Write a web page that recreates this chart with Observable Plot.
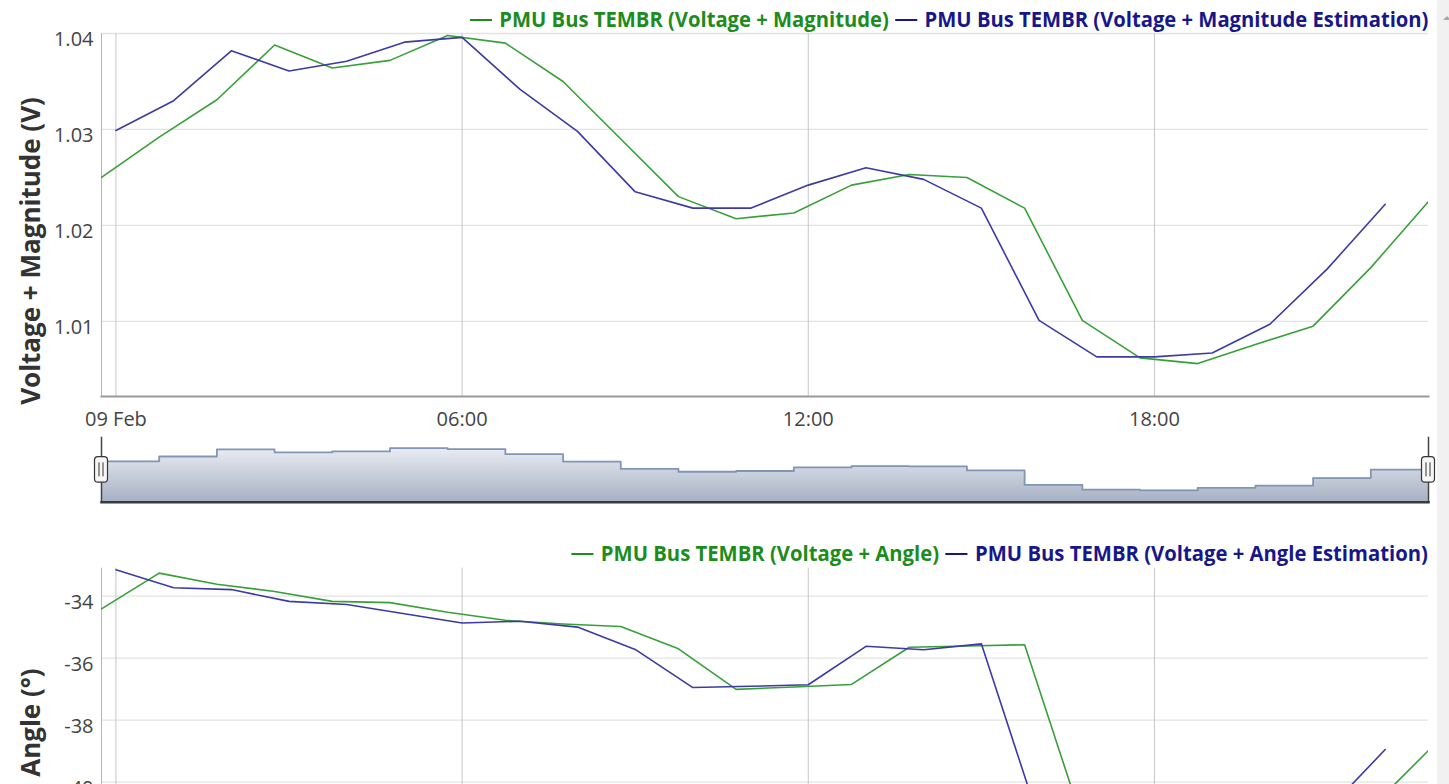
<!DOCTYPE html>
<html>
<head>
<meta charset="utf-8">
<script src="https://cdn.jsdelivr.net/npm/d3@7"></script>
<script src="https://cdn.jsdelivr.net/npm/@observablehq/plot@0.6"></script>
<style>
html, body { margin: 0; padding: 0; background: #fff; overflow: hidden; }
#root { position: relative; width: 1449px; height: 784px; overflow: hidden; font-family: "Open Sans", sans-serif; }
.layer { position: absolute; left: 0; }
.legend { position: absolute; left: 0; width: 1428px; text-align: right; white-space: nowrap; background: #fff;
  font-family: "Open Sans", sans-serif; font-weight: bold; font-size: 22px; overflow: hidden; }
.legend .inner { display: inline-block; transform-origin: 100% 50%; }
.legend .item { margin-left: 7px; }
.legend .sym { display: inline-block; width: 24px; height: 2.5px; vertical-align: middle; margin-right: 8px; position: relative; top: -1px; }
#scroll { position: absolute; left: 1437px; top: 0; width: 12px; height: 784px; background: #f1f1f1; }
#scroll .arrow { position: absolute; left: 6px; top: 16px; width: 0; height: 0; border-left: 4px solid transparent; border-right: 4px solid transparent; border-bottom: 4px solid #a8a8a8; }
</style>
</head>
<body>
<div id="root"></div>
<script>
// ---------- data ----------
const MONTHS = ["Jan","Feb","Mar","Apr","May","Jun","Jul","Aug","Sep","Oct","Nov","Dec"];

const measuredTimes = [
  "2024-02-08T23:45Z","2024-02-09T00:45Z","2024-02-09T01:45Z","2024-02-09T02:45Z","2024-02-09T03:45Z",
  "2024-02-09T04:45Z","2024-02-09T05:45Z","2024-02-09T06:45Z","2024-02-09T07:45Z","2024-02-09T08:45Z",
  "2024-02-09T09:45Z","2024-02-09T10:45Z","2024-02-09T11:45Z","2024-02-09T12:45Z","2024-02-09T13:45Z",
  "2024-02-09T14:45Z","2024-02-09T15:45Z","2024-02-09T16:45Z","2024-02-09T17:45Z","2024-02-09T18:45Z",
  "2024-02-09T19:45Z","2024-02-09T20:45Z","2024-02-09T21:45Z","2024-02-09T22:45Z"
];
const estimatedTimes = [
  "2024-02-09T00:00Z","2024-02-09T01:00Z","2024-02-09T02:00Z","2024-02-09T03:00Z","2024-02-09T04:00Z",
  "2024-02-09T05:00Z","2024-02-09T06:00Z","2024-02-09T07:00Z","2024-02-09T08:00Z","2024-02-09T09:00Z",
  "2024-02-09T10:00Z","2024-02-09T11:00Z","2024-02-09T12:00Z","2024-02-09T13:00Z","2024-02-09T14:00Z",
  "2024-02-09T15:00Z","2024-02-09T16:00Z","2024-02-09T17:00Z","2024-02-09T18:00Z","2024-02-09T19:00Z",
  "2024-02-09T20:00Z","2024-02-09T21:00Z","2024-02-09T22:00Z"
];

const magnitudeMeasured = [1.0250, 1.0292, 1.0331, 1.0388, 1.0364, 1.0372, 1.0398, 1.0390, 1.0350, 1.0290,
  1.0230, 1.0207, 1.0213, 1.0242, 1.0253, 1.0250, 1.0218, 1.0101, 1.0062, 1.0056, 1.0076, 1.0095, 1.0156, 1.0225];
const magnitudeEstimated = [1.0299, 1.0330, 1.0382, 1.0361, 1.0371, 1.0391, 1.0396, 1.0342, 1.0298, 1.0235,
  1.0218, 1.0218, 1.0242, 1.0260, 1.0248, 1.0218, 1.0101, 1.0063, 1.0063, 1.0067, 1.0097, 1.0155, 1.0222];

const angleMeasured = [-34.41, -33.26, -33.62, -33.85, -34.17, -34.21, -34.52, -34.78, -34.90, -34.98,
  -35.70, -37.01, -36.93, -36.85, -35.65, -35.61, -35.57, -41.25, -41.90, -42.00, -41.80, -41.50, -40.84, -38.98];
const angleEstimated = [-33.15, -33.73, -33.79, -34.17, -34.27, -34.57, -34.87, -34.81, -35.00, -35.72,
  -36.95, -36.91, -36.86, -35.62, -35.73, -35.54, -41.23, -41.80, -42.00, -41.90, -41.50, -40.90, -38.95];

const xDomainLabels = ["2024-02-08T23:45Z", "2024-02-09T22:45Z"];
const xTickLabels = ["2024-02-09T00:00Z", "2024-02-09T06:00Z", "2024-02-09T12:00Z", "2024-02-09T18:00Z"];

const magnitudeTicks = [1.01, 1.02, 1.03, 1.04];
const angleTicks = [-44, -42, -40, -38, -36, -34];

const magnitudeSeriesNames = ["PMU Bus TEMBR (Voltage + Magnitude)", "PMU Bus TEMBR (Voltage + Magnitude Estimation)"];
const angleSeriesNames = ["PMU Bus TEMBR (Voltage + Angle)", "PMU Bus TEMBR (Voltage + Angle Estimation)"];
const magnitudeTitle = "Voltage + Magnitude (V)";
const angleTitle = "Angle (°)";

// ---------- styling ----------
const GREEN = "#38a038";
const BLUE = "#3b3ba3";
const GREEN_TEXT = "#1d8c1d";
const BLUE_TEXT = "#17178a";

const W = 1437, ML = 101, MR = 9;
const xDomain = xDomainLabels.map(s => new Date(s));
const xTicks = xTickLabels.map(s => new Date(s));
const fmtX = d => d.getUTCHours() === 0
  ? `${String(d.getUTCDate()).padStart(2, "0")} ${MONTHS[d.getUTCMonth()]}`
  : `${String(d.getUTCHours()).padStart(2, "0")}:00`;

const toRows = (times, values) => times.map((t, i) => ({t: new Date(t), v: values[i]}));

const root = document.getElementById("root");

function place(node, top) {
  node.classList.add("layer");
  node.style.top = top + "px";
  root.appendChild(node);
}

function legend(names, top, height, targetWidth) {
  const div = document.createElement("div");
  div.className = "legend";
  div.style.top = top + "px";
  div.style.height = height + "px";
  div.style.lineHeight = "36px";
  const inner = document.createElement("span");
  inner.className = "inner";
  const cols = [GREEN_TEXT, BLUE_TEXT];
  names.forEach((n, i) => {
    const s = document.createElement("span");
    s.className = "item";
    s.style.color = cols[i];
    const sym = document.createElement("span");
    sym.className = "sym";
    sym.style.background = cols[i];
    s.appendChild(sym);
    s.appendChild(document.createTextNode(n));
    inner.appendChild(s);
  });
  div.appendChild(inner);
  root.appendChild(div);
  const natural = inner.getBoundingClientRect().width;
  if (natural > 0) inner.style.transform = `scaleX(${targetWidth / natural})`;
}

function lineChart({measured, estimated, yDomain, yTicks, yFmt, title, titleDy, marginTop, plotHeight}) {
  const height = marginTop + plotHeight + 40;
  return Plot.plot({
    width: W, height,
    marginLeft: ML, marginRight: MR, marginTop, marginBottom: 40,
    style: {fontFamily: '"Open Sans", sans-serif', fontSize: "20px", color: "#444", background: "transparent", overflow: "visible"},
    x: {type: "utc", domain: xDomain, label: null},
    y: {domain: yDomain, label: null},
    marks: [
      Plot.gridY(yTicks, {stroke: "#e3e3e3", strokeOpacity: 1, strokeWidth: 1.3}),
      Plot.gridX(xTicks, {stroke: "#c6c6c6", strokeOpacity: 1}),
      Plot.frame({anchor: "left", stroke: "#b5b5b5"}),
      Plot.frame({anchor: "bottom", stroke: "#999", strokeWidth: 2}),
      Plot.lineY(measured, {x: "t", y: "v", stroke: GREEN, strokeWidth: 1.6, clip: true}),
      Plot.lineY(estimated, {x: "t", y: "v", stroke: BLUE, strokeWidth: 1.6, clip: true}),
      Plot.axisY(yTicks, {tickSize: 0, tickPadding: 8, tickFormat: yFmt, dy: 6, label: null, fill: "#444"}),
      Plot.axisX(xTicks, {tickSize: 0, tickPadding: 15, tickFormat: fmtX, label: null, fill: "#444"}),
      Plot.text([title], {text: d => d, frameAnchor: "left", textAnchor: "middle", rotate: -90, dx: -70, dy: titleDy,
        fontSize: 26, fontWeight: "bold", fill: "#333"})
    ]
  });
}

// ---------- top chart ----------
const magMeasuredRows = toRows(measuredTimes, magnitudeMeasured);
const magEstimatedRows = toRows(estimatedTimes, magnitudeEstimated);
place(lineChart({
  measured: magMeasuredRows, estimated: magEstimatedRows,
  yDomain: [1.00217, 1.04], yTicks: magnitudeTicks, yFmt: d => d.toFixed(2),
  title: magnitudeTitle, titleDy: 36, marginTop: 33, plotHeight: 363
}), 0);
legend(magnitudeSeriesNames, 0, 32.4, 965);

// ---------- navigator ----------
const navDomain = [0.996, 1.0485];
const gradientDefs = () => {
  const defs = d3.create("svg:defs");
  const lg = defs.append("linearGradient").attr("id", "navGrad").attr("x1", 0).attr("y1", 0).attr("x2", 0).attr("y2", 1);
  lg.append("stop").attr("offset", "0%").attr("stop-color", "#e9ecf2");
  lg.append("stop").attr("offset", "100%").attr("stop-color", "#a6b1c4");
  return defs.node();
};
const handles = (index, scales, values, dims) => {
  const g = d3.create("svg:g");
  const cy = (dims.marginTop + dims.height - dims.marginBottom) / 2;
  for (const t of xDomain) {
    const x = scales.x(t);
    g.append("rect").attr("x", x - 6.5).attr("y", cy - 12.8).attr("width", 13).attr("height", 25.6)
      .attr("rx", 3.5).attr("fill", "#f6f6f6").attr("stroke", "#333").attr("stroke-width", 1.2);
    for (const off of [-2, 2]) {
      g.append("line").attr("x1", x + off).attr("x2", x + off).attr("y1", cy - 7).attr("y2", cy + 7)
        .attr("stroke", "#333").attr("stroke-width", 1);
    }
  }
  return g.node();
};
place(Plot.plot({
  width: W, height: 80,
  marginLeft: ML, marginRight: MR, marginTop: 7, marginBottom: 8.3,
  style: {background: "transparent", overflow: "visible"},
  x: {type: "utc", domain: xDomain, axis: null},
  y: {domain: navDomain, axis: null},
  marks: [
    gradientDefs,
    Plot.areaY(magMeasuredRows, {x: "t", y1: navDomain[0], y2: "v", curve: "step-before", fill: "url(#navGrad)", clip: true}),
    Plot.lineY(magMeasuredRows, {x: "t", y: "v", curve: "step-before", stroke: "#8195b4", strokeWidth: 1.8, clip: true}),
    Plot.frame({anchor: "left", stroke: "#444", strokeWidth: 1.5}),
    Plot.frame({anchor: "right", stroke: "#444", strokeWidth: 1.5}),
    Plot.frame({anchor: "bottom", stroke: "#3a3a3a", strokeWidth: 2.5}),
    handles
  ]
}), 430);

// ---------- bottom chart ----------
place(lineChart({
  measured: toRows(measuredTimes, angleMeasured), estimated: toRows(estimatedTimes, angleEstimated),
  yDomain: [-44.8, -33.1], yTicks: angleTicks, yFmt: d => String(d),
  title: angleTitle, titleDy: -27, marginTop: 27.7, plotHeight: 362.7
}), 540);
legend(angleSeriesNames, 534, 33, 863);

// ---------- page scrollbar ----------
const sb = document.createElement("div");
sb.id = "scroll";
sb.innerHTML = '<div class="arrow"></div>';
root.appendChild(sb);
</script>
</body>
</html>
